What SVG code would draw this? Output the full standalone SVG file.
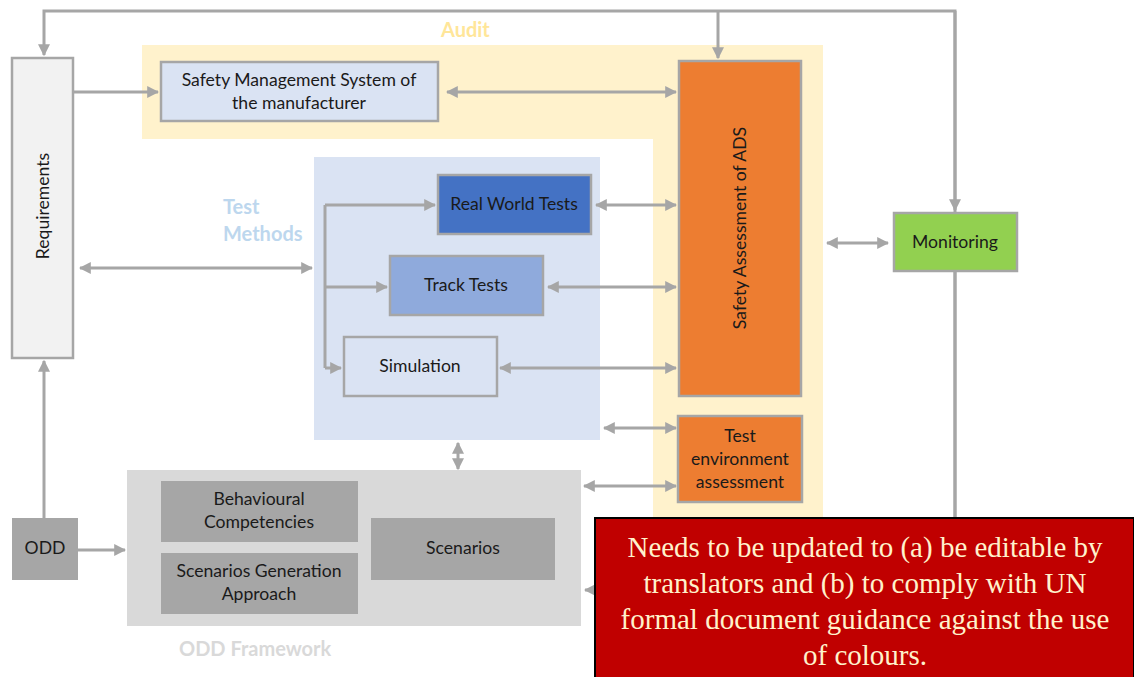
<svg xmlns="http://www.w3.org/2000/svg" width="1134" height="677" viewBox="0 0 1134 677">
<style>
.t{font-family:Lato,"Open Sans",sans-serif;font-size:17.6px;fill:#1a1a1a;text-anchor:middle}
.b{stroke:#a6a6a6;stroke-width:2.5}
.c{fill:none;stroke:#a6a6a6;stroke-width:3}
.lab{font-family:Lato,"Open Sans",sans-serif;font-size:20px;font-weight:bold;text-anchor:start}
</style>
<defs>
<marker id="ah" viewBox="0 0 10 10" refX="9" refY="5" markerWidth="4" markerHeight="4" orient="auto-start-reverse" markerUnits="strokeWidth">
<path d="M0,0 L10,5 L0,10 z" fill="#a6a6a6"/>
</marker>
</defs>
<rect width="1134" height="677" fill="#fff"/>
<g id="audit-bg">
<path d="M142,45 H823 V517 H653 V139 H142 Z" fill="#fff2cc"/>
<text class="lab" x="441" y="37" fill="#ffe699">Audit</text>
</g>
<g id="test-methods-bg">
<rect x="314" y="157" width="286" height="283" fill="#dae3f3"/>
<text class="lab" x="223" y="214" fill="#bdd7ee">Test</text>
<text class="lab" x="223" y="241" fill="#bdd7ee">Methods</text>
</g>
<g id="odd-framework-bg">
<rect x="127" y="470" width="454" height="156" fill="#d9d9d9"/>
<text class="lab" x="179" y="656" fill="#d9d9d9">ODD Framework</text>
</g>
<g id="connectors">
<path class="c" d="M955,520 V11 H44 V55" marker-end="url(#ah)"/>
<path class="c" d="M718,11 V58" marker-end="url(#ah)"/>
<path class="c" d="M955,11 V210" marker-end="url(#ah)"/>
<path class="c" d="M955,271 V590 H585" marker-end="url(#ah)"/>
<path class="c" d="M73,92 H158" marker-end="url(#ah)"/>
<path class="c" d="M447,92 H676" marker-start="url(#ah)" marker-end="url(#ah)"/>
<path class="c" d="M80,268 H312" marker-start="url(#ah)" marker-end="url(#ah)"/>
<path class="c" d="M325,205 V368"/>
<path class="c" d="M325,205 H435" marker-end="url(#ah)"/>
<path class="c" d="M325,287 H387" marker-end="url(#ah)"/>
<path class="c" d="M325,368 H341" marker-end="url(#ah)"/>
<path class="c" d="M596,205 H676" marker-start="url(#ah)" marker-end="url(#ah)"/>
<path class="c" d="M548,287 H676" marker-start="url(#ah)" marker-end="url(#ah)"/>
<path class="c" d="M500,368 H676" marker-start="url(#ah)" marker-end="url(#ah)"/>
<path class="c" d="M827,243 H888" marker-start="url(#ah)" marker-end="url(#ah)"/>
<path class="c" d="M604,428 H676" marker-start="url(#ah)" marker-end="url(#ah)"/>
<path class="c" d="M584,486 H676" marker-start="url(#ah)" marker-end="url(#ah)"/>
<path class="c" d="M458,443 V469" marker-start="url(#ah)" marker-end="url(#ah)"/>
<path class="c" d="M44,518 V361" marker-end="url(#ah)"/>
<path class="c" d="M78,550 H125" marker-end="url(#ah)"/>
</g>
<g id="requirements">
<rect class="b" x="12" y="58" width="61" height="300" fill="#f2f2f2"/>
<text class="t" transform="translate(49,206) rotate(-90)">Requirements</text>
</g>
<g id="sms">
<rect class="b" x="161" y="62" width="277" height="59" fill="#dae3f3"/>
<text class="t" x="299" y="86">Safety Management System of</text>
<text class="t" x="299" y="109">the manufacturer</text>
</g>
<g id="safety-assessment">
<rect class="b" x="679" y="61" width="122" height="335" fill="#ed7d31"/>
<text class="t" transform="translate(746,228) rotate(-90)">Safety Assessment of ADS</text>
</g>
<g id="monitoring">
<rect class="b" x="894" y="213" width="123" height="58" fill="#92d050"/>
<text class="t" x="955" y="248">Monitoring</text>
</g>
<g id="real-world-tests">
<rect class="b" x="438" y="175" width="153" height="59" fill="#4472c4"/>
<text class="t" x="514" y="210">Real World Tests</text>
</g>
<g id="track-tests">
<rect class="b" x="390" y="256" width="153" height="59" fill="#8faadc"/>
<text class="t" x="466" y="291">Track Tests</text>
</g>
<g id="simulation">
<rect class="b" x="344" y="337" width="153" height="59" fill="#dae3f3"/>
<text class="t" x="420" y="372">Simulation</text>
</g>
<g id="test-environment">
<rect class="b" x="678" y="416" width="124" height="86" fill="#ed7d31"/>
<text class="t" x="740" y="442">Test</text>
<text class="t" x="740" y="465">environment</text>
<text class="t" x="740" y="488">assessment</text>
</g>
<g id="behavioural">
<rect x="161" y="481" width="197" height="61" fill="#a6a6a6"/>
<text class="t" x="259" y="505">Behavioural</text>
<text class="t" x="259" y="528">Competencies</text>
</g>
<g id="scenario-generation">
<rect x="161" y="553" width="197" height="61" fill="#a6a6a6"/>
<text class="t" x="259" y="577">Scenarios Generation</text>
<text class="t" x="259" y="600">Approach</text>
</g>
<g id="scenarios">
<rect x="371" y="518" width="184" height="62" fill="#a6a6a6"/>
<text class="t" x="463" y="554">Scenarios</text>
</g>
<g id="odd">
<rect x="12" y="518" width="66" height="62" fill="#a6a6a6"/>
<text class="t" x="45" y="554">ODD</text>
</g>
<g id="note">
<rect x="595" y="518" width="539" height="162" fill="#c00000" stroke="#000" stroke-width="2"/>
<g font-family="'Liberation Serif',serif" font-size="29" fill="#fff2cc" text-anchor="middle">
<text x="865" y="557">Needs to be updated to (a) be editable by</text>
<text x="865" y="593">translators and (b) to comply with UN</text>
<text x="865" y="629">formal document guidance against the use</text>
<text x="865" y="665">of colours.</text>
</g>
</g>
</svg>
